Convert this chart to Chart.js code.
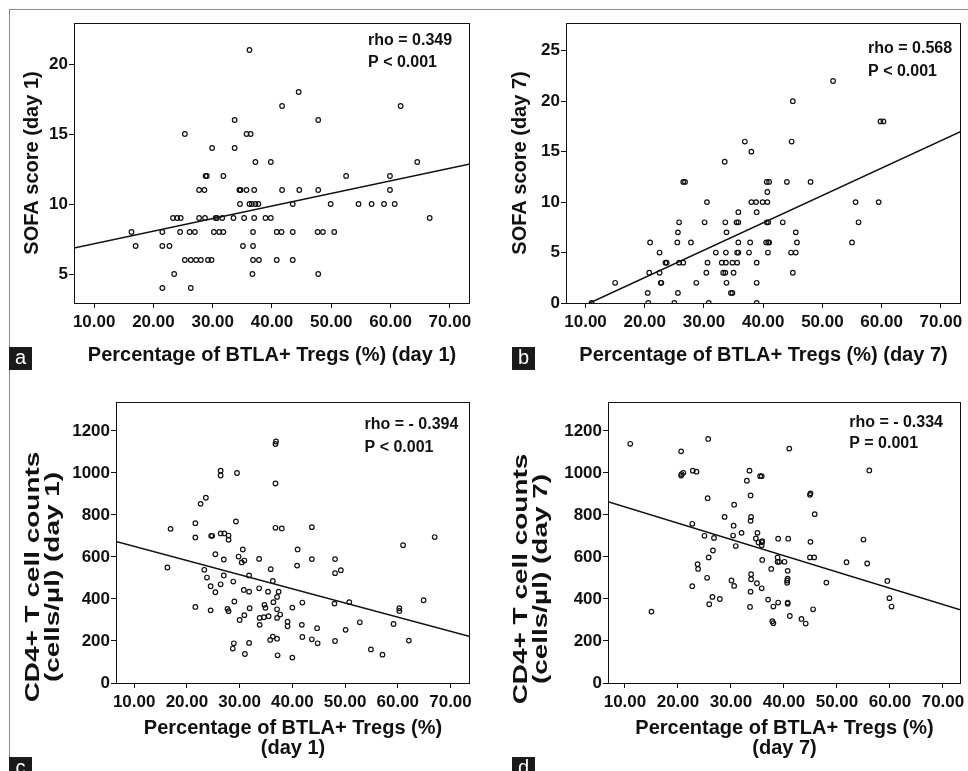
<!DOCTYPE html>
<html>
<head>
<meta charset="utf-8">
<script src="https://cdn.jsdelivr.net/npm/chart.js@4/dist/chart.umd.min.js"></script>
<style>
  html, body { margin: 0; padding: 0; background: #fff; }
  #fig { position: relative; width: 968px; height: 771px; overflow: hidden; background: #fff;
         font-family: 'Liberation Sans', Arial, Helvetica, sans-serif; }
  #frame { position: absolute; left: 9px; top: 9px; width: 1000px; height: 800px;
           border-left: 1px solid #8a8a8a; border-top: 1px solid #8a8a8a; }
  canvas { position: absolute; }
  .tag { position: absolute; width: 23px; height: 23px; background: #1a1a1a; color: #fff;
         font: 20px 'Liberation Sans', Arial, sans-serif; line-height: 21px; text-align: center; }
  .ytitle { position: absolute; white-space: nowrap; text-align: center; color: #111;
            font: bold 21px 'Liberation Sans', Arial, sans-serif; line-height: 20px;
            transform: translate(-50%, -50%) rotate(-90deg) scaleX(1.33); }
</style>
</head>
<body>
<div id="fig">
  <div id="frame"></div>
  <canvas id="chartA" width="468" height="366" style="left:12px;top:12px"></canvas>
  <canvas id="chartB" width="468" height="366" style="left:500px;top:12px"></canvas>
  <canvas id="chartC" width="468" height="381" style="left:12px;top:390px"></canvas>
  <canvas id="chartD" width="468" height="381" style="left:500px;top:390px"></canvas>
  <div class="ytitle" style="left:42px;top:577px">CD4+ T cell counts<br>(cells/µl) (day 1)</div>
  <div class="ytitle" style="left:530px;top:579px">CD4+ T cell counts<br>(cells/µl) (day 7)</div>
  <div class="tag" style="left:9px;top:347px">a</div>
  <div class="tag" style="left:512px;top:347px">b</div>
  <div class="tag" style="left:9px;top:757px">c</div>
  <div class="tag" style="left:512px;top:757px">d</div>
</div>
<script>
(function() {

  // ---- data ----
  var xTicks = [10, 20, 30, 40, 50, 60, 70];
  var sofaTicksA = [5, 10, 15, 20];
  var sofaTicksB = [0, 5, 10, 15, 20, 25];
  var cd4Ticks = [0, 200, 400, 600, 800, 1000, 1200];

  // a: BTLA+ Tregs day 1 vs SOFA day 1
  var aX = [36.2, 44.5, 41.7, 61.7, 33.7, 47.8, 25.3, 35.7, 36.4, 29.9, 33.7, 37.2, 39.8, 64.5,
            28.8, 29.0, 31.8, 52.5, 59.9,
            27.7, 28.6, 34.5, 34.7, 35.7, 37.0, 41.7, 44.6, 47.8, 59.9,
            34.6, 36.2, 36.6, 37.2, 37.7, 43.5, 49.9, 54.6, 56.8, 58.9, 60.7,
            23.3, 24.0, 24.6, 27.7, 28.7, 30.5, 30.7, 31.6, 33.5, 35.3, 37.0, 38.9, 39.8, 66.6,
            16.3, 21.5, 24.5, 26.1, 27.0, 30.2, 31.1, 31.8, 36.8, 40.8, 41.6, 43.5, 47.7, 48.6, 50.5,
            17.0, 21.5, 22.7, 35.1, 36.8,
            25.3, 26.3, 27.2, 28.0, 29.2, 29.8, 36.8, 37.8, 40.8, 43.5,
            23.5, 36.7, 47.8, 21.5, 26.3];
  var aY = [21, 18, 17, 17, 16, 16, 15, 15, 15, 14, 14, 13, 13, 13,
            12, 12, 12, 12, 12,
            11, 11, 11, 11, 11, 11, 11, 11, 11, 11,
            10, 10, 10, 10, 10, 10, 10, 10, 10, 10, 10,
            9, 9, 9, 9, 9, 9, 9, 9, 9, 9, 9, 9, 9, 9,
            8, 8, 8, 8, 8, 8, 8, 8, 8, 8, 8, 8, 8, 8, 8,
            7, 7, 7, 7, 7,
            6, 6, 6, 6, 6, 6, 6, 6, 6, 6,
            5, 5, 5, 4, 4];
  var aLineX = [6.6, 73.4];
  var aLineY = [6.86, 12.86];

  // b: BTLA+ Tregs day 7 vs SOFA day 7
  var bX = [51.8, 45.0, 59.8, 60.3, 36.9, 44.8, 38.0, 33.5,
            26.5, 26.8, 40.6, 41.0, 44.0, 48.0, 40.7,
            30.5, 38.0, 38.8, 39.9, 40.7, 55.6, 59.5,
            35.8, 38.9,
            25.8, 30.1, 33.6, 35.5, 35.8, 40.6, 40.85, 43.3, 56.1,
            25.6, 33.8, 45.5,
            20.9, 25.5, 27.8, 35.8, 37.8, 40.5, 40.85, 41.0, 45.7, 55.0,
            22.5, 32.0, 33.7, 35.6, 35.8, 37.6, 40.8, 44.7, 45.5,
            23.5, 23.7, 25.8, 26.5, 30.6, 33.0, 33.7, 34.8, 35.6, 38.9,
            20.75, 22.5, 30.4, 33.25, 33.6, 35.0, 45.0,
            15.0, 22.7, 22.8, 28.7, 33.8, 38.9,
            20.5, 25.6, 34.55, 34.8,
            11.0, 20.6, 25.0, 30.8, 38.9];
  var bY = [22, 20, 18, 18, 16, 16, 15, 14,
            12, 12, 12, 12, 12, 12, 11,
            10, 10, 10, 10, 10, 10, 10,
            9, 9,
            8, 8, 8, 8, 8, 8, 8, 8, 8,
            7, 7, 7,
            6, 6, 6, 6, 6, 6, 6, 6, 6, 6,
            5, 5, 5, 5, 5, 5, 5, 5, 5,
            4, 4, 4, 4, 4, 4, 4, 4, 4, 4,
            3, 3, 3, 3, 3, 3, 3,
            2, 2, 2, 2, 2, 2,
            1, 1, 1, 1,
            0, 0, 0, 0, 0];
  var bLineX = [10.7, 73.4];
  var bLineY = [0, 17.0];

  // c: BTLA+ Tregs day 1 vs CD4+ T cells day 1
  var cX = [36.9, 36.8, 26.4, 26.4, 29.5, 36.8, 23.6, 22.6, 29.3, 16.9, 21.6, 21.6, 24.6, 24.8,
            26.4, 27.1, 27.9, 27.9, 36.8, 38.0, 43.7, 67.0, 61.0, 16.3, 25.4, 27.0, 29.8, 30.4,
            30.9, 30.6, 33.7, 35.9, 41.0, 40.9, 43.7, 48.1, 48.1, 49.2, 23.3, 23.8, 24.5, 25.4,
            26.4, 27.0, 28.8, 31.8, 30.8, 31.8, 33.7, 35.4, 36.3, 37.4, 37.1, 36.4, 21.6, 24.5,
            27.7, 27.9, 29.0, 31.9, 30.9, 30.0, 34.7, 34.9, 37.1, 37.7, 37.1, 33.8, 34.6, 35.5,
            33.8, 39.1, 39.1, 40.0, 41.9, 41.8, 44.7, 48.0, 50.8, 50.1, 52.8, 59.2, 60.3, 60.3,
            64.9, 62.1, 28.9, 28.7, 31.8, 31.0, 36.3, 37.1, 35.8, 37.2, 40.0, 41.9, 43.7, 44.8,
            48.1, 54.9, 57.1];
  var cY = [1150, 1138, 1011, 988, 1000, 950, 882, 853, 769, 734, 761, 693, 701, 701,
            712, 712, 702, 682, 739, 736, 742, 695, 656, 550, 613, 588, 602, 574,
            583, 636, 591, 542, 636, 559, 590, 590, 523, 537, 539, 502, 461, 432,
            470, 512, 483, 512, 443, 435, 451, 435, 486, 435, 410, 385, 362, 346,
            353, 342, 388, 356, 323, 300, 372, 358, 351, 326, 310, 310, 313, 318,
            277, 292, 270, 359, 383, 277, 261, 378, 385, 253, 289, 281, 356, 343,
            394, 202, 189, 164, 191, 138, 221, 211, 205, 132, 121, 219, 208, 189,
            200, 160, 135];
  var cLineX = [6.55, 73.7];
  var cLineY = [674, 221];

  // d: BTLA+ Tregs day 7 vs CD4+ T cells day 7
  var dX = [11.0, 15.0, 25.7, 20.6, 20.6, 20.7, 21.0, 22.8, 23.5, 25.6, 22.7, 25.0, 26.8, 26.6,
            25.8, 23.7, 23.8, 25.5, 22.7, 26.5, 25.9, 27.9, 28.8, 30.6, 30.5, 30.4, 30.9, 32.0,
            30.1, 30.6, 33.5, 33.0, 35.5, 35.8, 33.7, 33.8, 33.7, 35.0, 34.7, 35.2, 35.8, 35.8,
            35.9, 35.9, 33.8, 33.8, 34.9, 35.8, 33.7, 33.6, 37.0, 38.0, 38.9, 37.6, 38.8, 39.1,
            38.8, 40.1, 38.9, 40.8, 40.7, 40.7, 40.6, 40.6, 40.7, 40.7, 37.8, 38.0, 41.1, 41.0,
            43.3, 44.1, 45.5, 44.9, 45.0, 45.8, 45.0, 44.9, 45.7, 48.0, 51.8, 55.0, 55.7, 56.1,
            59.5, 59.9, 60.3];
  var dY = [1139, 340, 1162, 1103, 988, 995, 1001, 1011, 1006, 880, 758, 701, 691, 631,
            598, 566, 543, 501, 461, 410, 375, 400, 791, 849, 749, 702, 652, 715,
            488, 462, 1011, 963, 985, 985, 893, 791, 772, 715, 688, 669, 670, 656,
            675, 586, 518, 494, 475, 451, 435, 362, 397, 364, 383, 543, 598, 577,
            577, 577, 687, 687, 534, 497, 488, 477, 383, 377, 294, 285, 319, 1116,
            305, 283, 351, 896, 903, 804, 672, 598, 598, 478, 575, 683, 569, 1012,
            486, 404, 364];
  var dLineX = [6.8, 73.4];
  var dLineY = [863, 348];

  var statsA = ['rho = 0.349', 'P < 0.001'];
  var statsB = ['rho = 0.568', 'P < 0.001'];
  var statsC = ['rho = - 0.394', 'P < 0.001'];
  var statsD = ['rho = - 0.334', 'P = 0.001'];

  // ---- helpers ----
  var FONT = "'Liberation Sans', Arial, Helvetica, sans-serif";

  function toPoints(xs, ys) {
    return xs.map(function(x, i) { return { x: x, y: ys[i] }; });
  }

  function fixSize(size, horizontal) {
    return function(scale) {
      if (horizontal) scale.height = size; else scale.width = size;
      scale.paddingTop = 0; scale.paddingBottom = 0;
      scale.paddingLeft = 0; scale.paddingRight = 0;
    };
  }

  function useTicks(list) {
    return function(scale) {
      scale.ticks = list.map(function(v) { return { value: v }; });
    };
  }

  // box around the plot area
  var framePlugin = {
    id: 'plotFrame',
    afterDatasetsDraw: function(chart) {
      var a = chart.chartArea, ctx = chart.ctx;
      ctx.save();
      ctx.strokeStyle = '#111';
      ctx.lineWidth = 1;
      ctx.strokeRect(Math.round(a.left) + 0.5, Math.round(a.top) + 0.5,
                     Math.round(a.right - a.left) - 1, Math.round(a.bottom - a.top));
      ctx.restore();
    }
  };

  // rho / P text placed in data units
  var statsPlugin = {
    id: 'stats',
    afterDraw: function(chart, args, opts) {
      if (!opts || !opts.lines) return;
      var ctx = chart.ctx;
      var xs = chart.scales.x, ys = chart.scales.y;
      ctx.save();
      ctx.font = 'bold 16px ' + FONT;
      ctx.fillStyle = '#111';
      ctx.textAlign = 'left';
      ctx.textBaseline = 'middle';
      opts.lines.forEach(function(t, i) {
        ctx.fillText(t, xs.getPixelForValue(opts.x), ys.getPixelForValue(opts.y[i]));
      });
      ctx.restore();
    }
  };

  function makeChart(id, p) {
    var ctx = document.getElementById(id);
    return new Chart(ctx, {
      type: 'scatter',
      data: {
        datasets: [{
          data: toPoints(p.xs, p.ys),
          pointRadius: 2.3,
          pointHoverRadius: 2.3,
          borderWidth: 1.2,
          borderColor: '#111',
          backgroundColor: 'rgba(0,0,0,0)'
        }, {
          type: 'line',
          data: toPoints(p.lineX, p.lineY),
          borderColor: '#111',
          borderWidth: 1.5,
          pointRadius: 0,
          fill: false
        }]
      },
      options: {
        responsive: false,
        animation: false,
        events: [],
        layout: { padding: p.pad },
        plugins: {
          legend: { display: false },
          tooltip: { enabled: false },
          stats: { lines: p.stats, x: p.statX, y: p.statY }
        },
        scales: {
          x: {
            type: 'linear',
            min: p.xMin, max: p.xMax,
            afterBuildTicks: useTicks(xTicks),
            afterFit: fixSize(p.xH, true),
            border: { display: false },
            grid: { drawOnChartArea: false, drawTicks: true, tickLength: 5, color: '#111', tickColor: '#111' },
            ticks: {
              color: '#111', padding: 4,
              font: { family: FONT, size: 17, weight: 'bold' },
              callback: function(v) { return Number(v).toFixed(2); }
            },
            title: {
              display: true, text: p.xTitle, color: '#111',
              font: { family: FONT, size: 20, weight: 'bold', lineHeight: 1 },
              padding: { top: 0, bottom: 13 }
            }
          },
          y: {
            type: 'linear',
            min: p.yMin, max: p.yMax,
            afterBuildTicks: useTicks(p.yTicks),
            afterFit: fixSize(p.yW, false),
            border: { display: false },
            grid: { drawOnChartArea: false, drawTicks: true, tickLength: 5, color: '#111', tickColor: '#111' },
            ticks: {
              color: '#111', padding: 1,
              font: { family: FONT, size: 17, weight: 'bold' },
              callback: function(v) { return String(v); }
            },
            title: {
              display: !!p.yTitle, text: p.yTitle || '', color: '#111',
              font: { family: FONT, size: 20, weight: 'bold', lineHeight: 1 },
              padding: { top: 10, bottom: 0 }
            }
          }
        }
      },
      plugins: [framePlugin, statsPlugin]
    });
  }

  makeChart('chartA', {
    xs: aX, ys: aY, lineX: aLineX, lineY: aLineY,
    xMin: 6.6, xMax: 73.4, yMin: 2.93, yMax: 22.93, yTicks: sofaTicksA,
    xH: 75, yW: 62, pad: { top: 11, right: 10, left: 0, bottom: 0 },
    xTitle: 'Percentage of BTLA+ Tregs (%) (day 1)', yTitle: 'SOFA score (day 1)',
    stats: statsA, statX: 56.2, statY: [21.64, 20.07]
  });

  makeChart('chartB', {
    xs: bX, ys: bY, lineX: bLineX, lineY: bLineY,
    xMin: 6.7, xMax: 73.4, yMin: 0, yMax: 27.75, yTicks: sofaTicksB,
    xH: 75, yW: 66, pad: { top: 11, right: 7, left: 0, bottom: 0 },
    xTitle: 'Percentage of BTLA+ Tregs (%) (day 7)', yTitle: 'SOFA score (day 7)',
    stats: statsB, statX: 57.7, statY: [25.17, 22.89]
  });

  makeChart('chartC', {
    xs: cX, ys: cY, lineX: cLineX, lineY: cLineY,
    xMin: 6.55, xMax: 73.7, yMin: 0, yMax: 1338, yTicks: cd4Ticks,
    xH: 88, yW: 104, pad: { top: 12, right: 10, left: 0, bottom: 0 },
    xTitle: ['Percentage of BTLA+ Tregs (%)', '(day 1)'], yTitle: null,
    stats: statsC, statX: 53.7, statY: [1230, 1120]
  });

  makeChart('chartD', {
    xs: dX, ys: dY, lineX: dLineX, lineY: dLineY,
    xMin: 6.8, xMax: 73.4, yMin: 0, yMax: 1338, yTicks: cd4Ticks,
    xH: 88, yW: 108, pad: { top: 12, right: 7, left: 0, bottom: 0 },
    xTitle: ['Percentage of BTLA+ Tregs (%)', '(day 7)'], yTitle: null,
    stats: statsD, statX: 52.3, statY: [1240, 1139]
  });

})();
</script>
</body>
</html>
